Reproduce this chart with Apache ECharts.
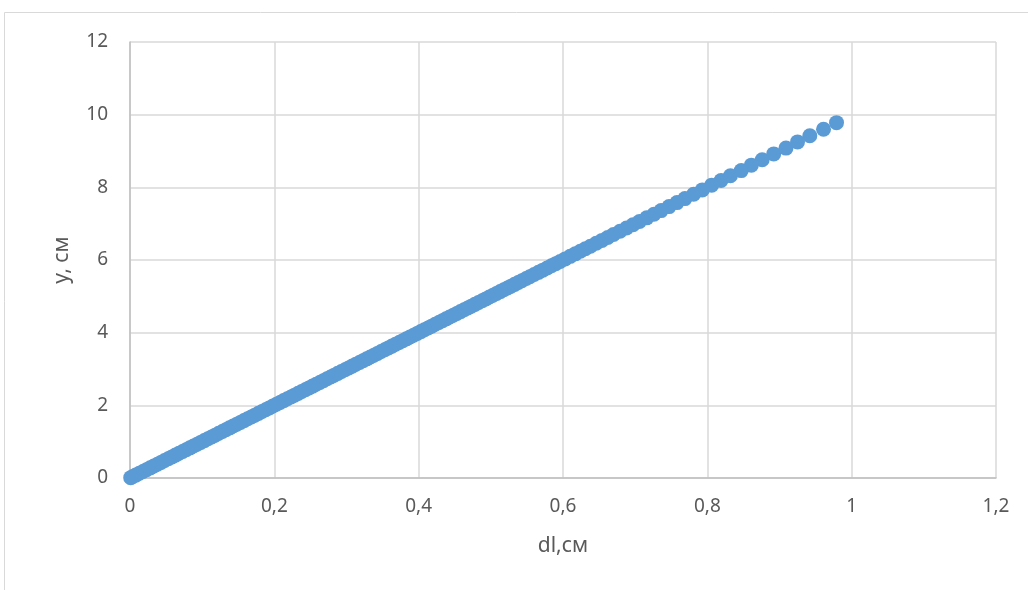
<!DOCTYPE html>
<html>
<head>
<meta charset="utf-8">
<script src="https://cdn.jsdelivr.net/npm/echarts@6/dist/echarts.min.js"></script>
<style>
  html, body { margin: 0; padding: 0; background: #fff; }
  #chart { width: 1028px; height: 590px; }
</style>
</head>
<body>
<div id="chart"></div>
<script>
// dl, см (x values)
const dlValues = [
  0.979, 0.961, 0.942, 0.925, 0.909, 0.892, 0.876, 0.861, 0.847, 0.832,
  0.819, 0.806, 0.793, 0.781, 0.769, 0.758, 0.747, 0.736, 0.726, 0.716,
  0.706, 0.697, 0.688, 0.679, 0.670, 0.662, 0.654, 0.646, 0.638, 0.631,
  0.624, 0.617, 0.610, 0.603, 0.596, 0.590, 0.584, 0.578, 0.572, 0.566,
  0.560, 0.554, 0.549, 0.543, 0.538, 0.533, 0.528, 0.523, 0.518, 0.513,
  0.508, 0.503, 0.498, 0.493, 0.488, 0.483, 0.478, 0.473, 0.468, 0.463,
  0.458, 0.453, 0.448, 0.443, 0.438, 0.433, 0.428, 0.423, 0.418, 0.413,
  0.408, 0.403, 0.398, 0.393, 0.388, 0.383, 0.378, 0.373, 0.368, 0.363,
  0.358, 0.353, 0.348, 0.343, 0.338, 0.333, 0.328, 0.323, 0.318, 0.313,
  0.308, 0.303, 0.298, 0.293, 0.288, 0.283, 0.278, 0.273, 0.268, 0.263,
  0.258, 0.253, 0.248, 0.243, 0.238, 0.233, 0.228, 0.223, 0.218, 0.213,
  0.208, 0.203, 0.198, 0.193, 0.188, 0.183, 0.178, 0.173, 0.168, 0.163,
  0.158, 0.153, 0.148, 0.143, 0.138, 0.133, 0.128, 0.123, 0.118, 0.113,
  0.108, 0.103, 0.098, 0.093, 0.088, 0.083, 0.078, 0.073, 0.068, 0.063,
  0.058, 0.053, 0.048, 0.043, 0.038, 0.033, 0.028, 0.023, 0.018, 0.013,
  0.008, 0.004, 0.001
]

// y, см
const yValues = [
  9.78, 9.60, 9.42, 9.25, 9.08, 8.92, 8.76, 8.61, 8.46, 8.32,
  8.19, 8.06, 7.93, 7.81, 7.69, 7.58, 7.47, 7.36, 7.26, 7.16,
  7.06, 6.97, 6.88, 6.79, 6.70, 6.62, 6.54, 6.46, 6.38, 6.31,
  6.24, 6.17, 6.10, 6.03, 5.96, 5.90, 5.84, 5.78, 5.72, 5.66,
  5.60, 5.54, 5.49, 5.43, 5.38, 5.33, 5.28, 5.23, 5.18, 5.13,
  5.08, 5.03, 4.98, 4.93, 4.88, 4.83, 4.78, 4.73, 4.68, 4.63,
  4.58, 4.53, 4.48, 4.43, 4.38, 4.33, 4.28, 4.23, 4.18, 4.13,
  4.08, 4.03, 3.98, 3.93, 3.88, 3.83, 3.78, 3.73, 3.68, 3.63,
  3.58, 3.53, 3.48, 3.43, 3.38, 3.33, 3.28, 3.23, 3.18, 3.13,
  3.08, 3.03, 2.98, 2.93, 2.88, 2.83, 2.78, 2.73, 2.68, 2.63,
  2.58, 2.53, 2.48, 2.43, 2.38, 2.33, 2.28, 2.23, 2.18, 2.13,
  2.08, 2.03, 1.98, 1.93, 1.88, 1.83, 1.78, 1.73, 1.68, 1.63,
  1.58, 1.53, 1.48, 1.43, 1.38, 1.33, 1.28, 1.23, 1.18, 1.13,
  1.08, 1.03, 0.98, 0.93, 0.88, 0.83, 0.78, 0.73, 0.68, 0.63,
  0.58, 0.53, 0.48, 0.43, 0.38, 0.33, 0.28, 0.23, 0.18, 0.13,
  0.08, 0.04, 0.01
]

const textColor = '#595959'
const fontFamily = '"Noto Sans", "Open Sans", sans-serif'

const chart = echarts.init(document.getElementById('chart'))
const option = {
  animation: false,
  backgroundColor: '#fff',
  textStyle: { fontFamily: fontFamily },
  graphic: [{
    type: 'rect',
    shape: { x: 4.5, y: 12.5, width: 1200, height: 800 },
    style: { fill: 'none', stroke: '#d9d9d9', lineWidth: 1 },
    silent: true
  }],
  grid: { left: 130, right: 32, top: 42, bottom: 112 },
  xAxis: {
    type: 'value',
    min: 0,
    max: 1.2,
    interval: 0.2,
    name: 'dl,см',
    nameLocation: 'middle',
    nameGap: 58,
    nameTextStyle: { color: textColor, fontSize: 21, fontFamily: fontFamily },
    axisLine: { show: true, onZero: false, lineStyle: { color: '#bfbfbf', width: 1.5 } },
    axisTick: { show: false },
    axisLabel: {
      color: textColor,
      fontSize: 19,
      margin: 19,
      formatter: v => String(+v.toFixed(1)).replace('.', ',')
    },
    splitLine: { show: true, lineStyle: { color: '#d9d9d9', width: 1.5 } }
  },
  yAxis: {
    type: 'value',
    min: 0,
    max: 12,
    interval: 2,
    name: 'у, см',
    nameLocation: 'middle',
    nameGap: 57,
    nameTextStyle: { color: textColor, fontSize: 21, fontFamily: fontFamily },
    axisLine: { show: true, onZero: false, lineStyle: { color: '#bfbfbf', width: 1.5 } },
    axisTick: { show: false },
    axisLabel: { color: textColor, fontSize: 19, margin: 22 },
    splitLine: { show: true, lineStyle: { color: '#d9d9d9', width: 1.5 } }
  },
  series: [{
    type: 'scatter',
    data: dlValues.map((x, i) => [x, yValues[i]]),
    symbol: 'circle',
    symbolSize: 15,
    itemStyle: { color: '#5b9bd5', opacity: 1 }
  }]
}
chart.setOption(option)
</script>
</body>
</html>
